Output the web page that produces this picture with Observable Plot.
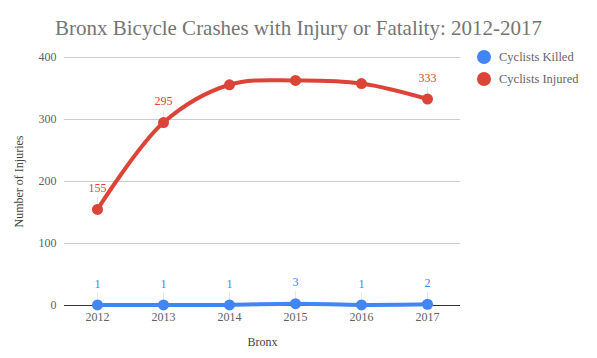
<!DOCTYPE html>
<html><head><meta charset="utf-8">
<script src="https://cdn.jsdelivr.net/npm/d3@7"></script>
<script src="https://cdn.jsdelivr.net/npm/@observablehq/plot@0.6"></script>
<style>
body{margin:0;background:#fff;font-family:"Liberation Serif","Times New Roman",serif;}
#wrap{position:relative;width:597px;height:358px;}
#title{position:absolute;left:0;top:16px;width:597px;text-align:center;font-size:21px;line-height:24px;color:#757575;}
#legend{position:absolute;left:477px;top:46px;font-size:12.5px;color:#666;}
.li{display:flex;align-items:center;height:22px;}
.dot{width:14px;height:14px;border-radius:50%;margin-right:8px;}
#chart{position:absolute;left:0;top:0;}
#chart svg, #chart svg text{font-family:"Liberation Serif","Times New Roman",serif !important;}
</style></head>
<body>
<div id="wrap">
<div id="chart"></div>
<div id="title">Bronx Bicycle Crashes with Injury or Fatality: 2012-2017</div>
<div id="legend"></div>
</div>
<script>
const years = ["2012","2013","2014","2015","2016","2017"];
const killed = [1,1,1,3,1,2];
const injured = [155,295,356,363,358,333];
const seriesNames = ["Cyclists Killed","Cyclists Injured"];
const seriesColors = ["#4285f4","#db4437"];
const labeledInjured = [true,true,false,false,false,true];
const yTicks = [0,100,200,300,400];

const rows = [];
years.forEach((y,i)=>{
  rows.push({year:y, value:killed[i], series:seriesNames[0], label:true});
  rows.push({year:y, value:injured[i], series:seriesNames[1], label:labeledInjured[i]});
});
const labeled = rows.filter(d=>d.label);
const stem = {draw(ctx,l){ctx.moveTo(0,-6);ctx.lineTo(0,-l);}};

const plot = Plot.plot({
  width:597, height:358,
  marginTop:57, marginBottom:53, marginLeft:64, marginRight:137,
  style:{fontSize:"12px", background:"transparent"},
  x:{type:"band", domain:years, padding:0, round:false},
  y:{domain:[0,400], ticks:yTicks},
  color:{domain:seriesNames, range:seriesColors},
  marks:[
    Plot.gridY(yTicks.filter(t=>t>0), {stroke:"#cccccc", strokeOpacity:1}),
    Plot.axisY({ticks:yTicks, tickSize:0, tickPadding:8, fill:"#5f5f5f", fontSize:12,
      label:"Number of Injuries", labelAnchor:"center", labelArrow:"none", labelOffset:50}),
    Plot.axisX({tickSize:0, tickPadding:7, fill:"#5f5f5f", fontSize:12,
      label:"Bronx", labelAnchor:"center", labelArrow:"none", labelOffset:40}),
    Plot.ruleY([0], {stroke:"#333", strokeWidth:1}),
    Plot.vector(labeled, {x:"year", y:"value", length:()=>15, rotate:0, anchor:"start", shape:stem, stroke:"#e6e6e6", strokeWidth:1}),
    Plot.line(rows, {x:"year", y:"value", stroke:"series", z:"series", strokeWidth:4, curve:"catmull-rom"}),
    Plot.dot(rows, {x:"year", y:"value", fill:"series", r:5.5}),
    Plot.text(labeled, {x:"year", y:"value", text:d=>String(d.value), fill:"series", dy:-21, fontSize:12})
  ]
});
document.getElementById("chart").appendChild(plot);
plot.querySelectorAll("[aria-label='y-axis label'], [aria-label='x-axis label']").forEach(g=>g.setAttribute("fill","#444"));

const leg = document.getElementById("legend");
seriesNames.forEach((n,i)=>{
  const d=document.createElement("div");d.className="li";
  d.innerHTML=`<span class="dot" style="background:${seriesColors[i]}"></span><span>${n}</span>`;
  leg.appendChild(d);
});
</script>
</body></html>
